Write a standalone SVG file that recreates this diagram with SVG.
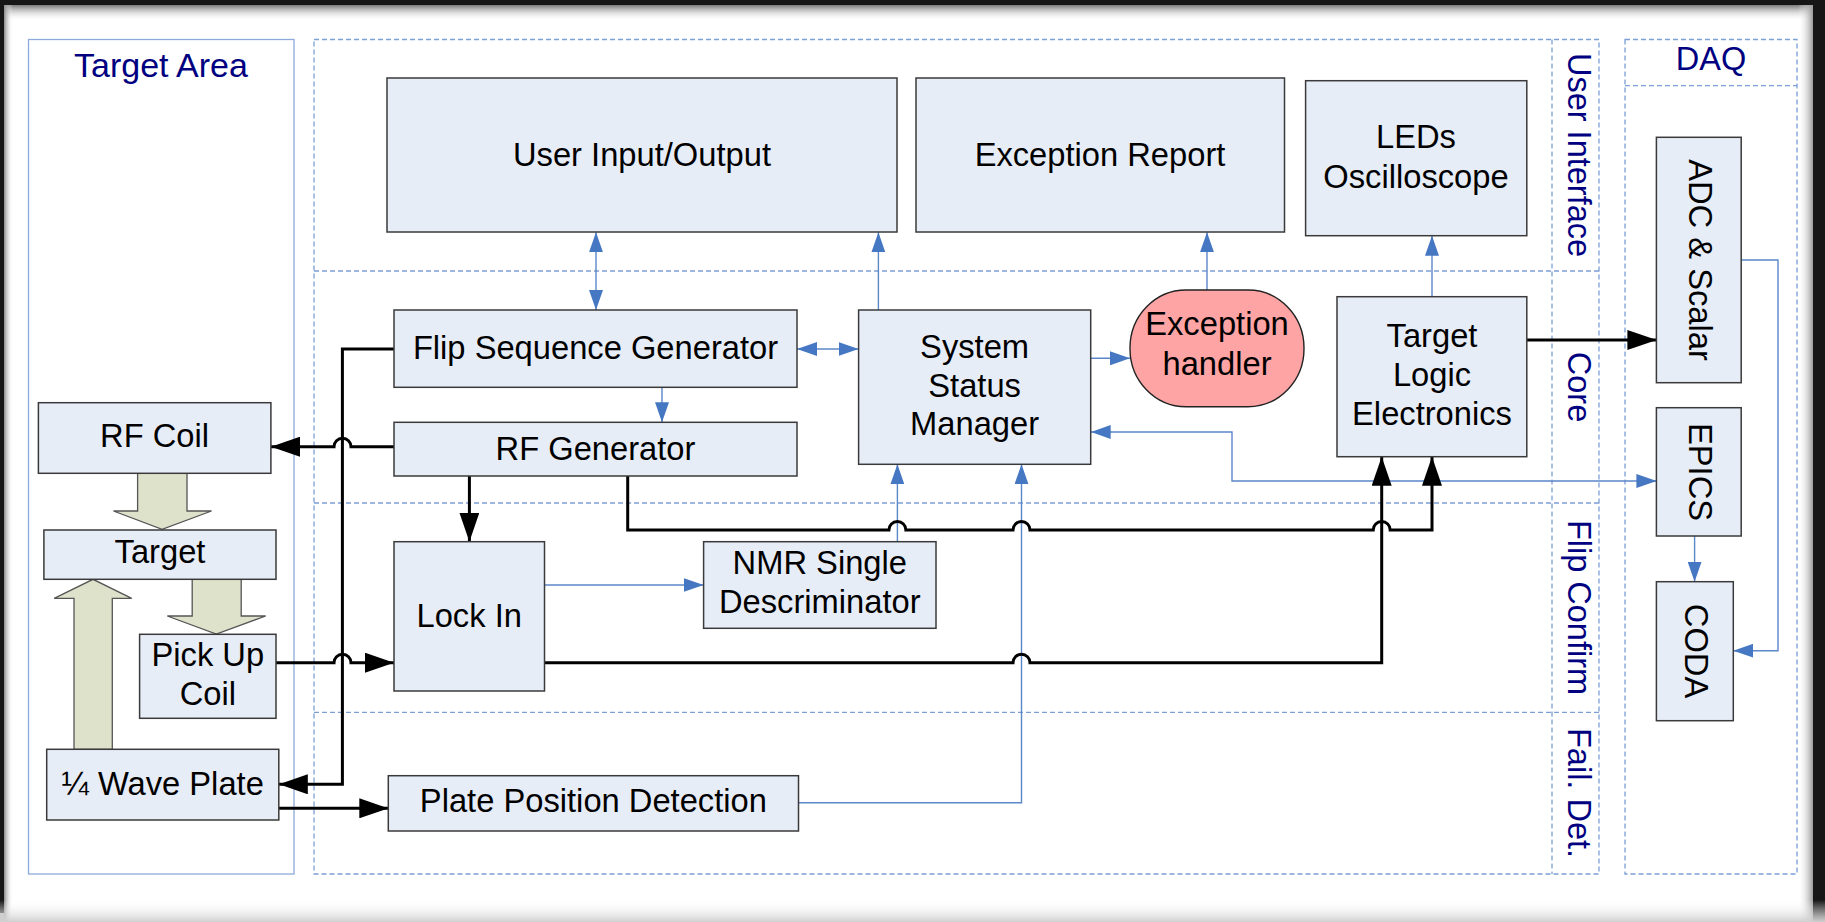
<svg xmlns="http://www.w3.org/2000/svg" width="1825" height="922" viewBox="0 0 1825 922">
<style>
.node{fill:#e7edf7;stroke:#3a3a3a;stroke-width:1.5}
.t{font-family:"Liberation Sans",Arial,sans-serif;font-size:32.7px;fill:#000;text-anchor:middle}
.lab{font-family:"Liberation Sans",Arial,sans-serif;font-size:32.5px;fill:#000080;text-anchor:middle}
.lane{fill:none;stroke:#7c9fd8;stroke-width:1.3;stroke-dasharray:5 3}
.blue{fill:none;stroke:#5b87c9;stroke-width:1.4}
.blk{fill:none;stroke:#000;stroke-width:3}
.block{fill:#dee2cb;stroke:#555;stroke-width:1.3}
</style>
<defs>
<linearGradient id="topg" x1="0" y1="0" x2="0" y2="1">
<stop offset="0" stop-color="#7a7a7a"/><stop offset="1" stop-color="#ffffff" stop-opacity="0"/>
</linearGradient>
<linearGradient id="botg" x1="0" y1="0" x2="0" y2="1">
<stop offset="0" stop-color="#ffffff" stop-opacity="0"/><stop offset="1" stop-color="#cfcfcf"/>
</linearGradient>
<linearGradient id="leftg" x1="0" y1="0" x2="1" y2="0">
<stop offset="0" stop-color="#8a8a8a"/><stop offset="1" stop-color="#ffffff" stop-opacity="0"/>
</linearGradient>
<linearGradient id="rightg" x1="0" y1="0" x2="1" y2="0">
<stop offset="0" stop-color="#ffffff" stop-opacity="0"/><stop offset="1" stop-color="#9a9a9a"/>
</linearGradient>
<marker id="ab" markerUnits="userSpaceOnUse" markerWidth="20" markerHeight="14" refX="20" refY="7" orient="auto-start-reverse">
<path d="M0,0 L20,7 L0,14 z" fill="#4677c3"/>
</marker>
<marker id="ak" markerUnits="userSpaceOnUse" markerWidth="29" markerHeight="20" refX="29" refY="10" orient="auto-start-reverse">
<path d="M0,0 L29,10 L0,20 z" fill="#000"/>
</marker>
</defs>

<!-- frame -->
<rect x="0" y="0" width="1825" height="922" fill="#161616"/>
<rect x="4" y="5" width="1809" height="917" fill="#ffffff"/>
<rect x="4" y="5" width="1809" height="16" fill="url(#topg)"/>
<rect x="4" y="5" width="9" height="917" fill="url(#leftg)"/>
<rect x="1798" y="5" width="15" height="917" fill="url(#rightg)"/>
<rect x="0" y="900" width="1825" height="22" fill="url(#botg)"/>
<rect x="0" y="913" width="4" height="9" fill="#cfcfcf"/>

<!-- containers -->
<g id="target-area">
<rect x="28.5" y="39.5" width="265.5" height="834.5" fill="none" stroke="#8eaadb" stroke-width="1.3"/>
<text class="lab" x="161" y="77" style="font-size:34px">Target Area</text>
</g>
<g id="lanes">
<rect class="lane" x="314" y="39.5" width="1285" height="834.5"/>
<line class="lane" x1="314" y1="271" x2="1599" y2="271"/>
<line class="lane" x1="314" y1="503" x2="1599" y2="503"/>
<line class="lane" x1="314" y1="712.3" x2="1599" y2="712.3"/>
<line class="lane" x1="1552" y1="39.5" x2="1552" y2="874"/>
<text class="lab" transform="translate(1579,155) rotate(90)" y="11.5">User Interface</text>
<text class="lab" transform="translate(1579,387) rotate(90)" y="11.5">Core</text>
<text class="lab" transform="translate(1579,607.5) rotate(90)" y="11.5">Flip Confirm</text>
<text class="lab" transform="translate(1579,793) rotate(90)" y="11.5">Fail. Det.</text>
</g>
<g id="daq">
<rect class="lane" x="1625" y="39.5" width="172" height="834.5"/>
<line class="lane" x1="1625" y1="85.7" x2="1797" y2="85.7"/>
<text class="lab" x="1711" y="70">DAQ</text>
</g>

<!-- block arrows -->
<g id="block-arrows">
<path class="block" d="M137.6,473.3 H187 V511 H211.5 L162.1,529.3 L113.5,511 H137.6 Z"/>
<path class="block" d="M192.2,579.3 H241.2 V616 H265.7 L216.3,634 L167.3,616 H192.2 Z"/>
<path class="block" d="M74,749.3 V598.3 H54.2 L93,579.3 L131.7,598.3 H112.3 V749.3 Z"/>
</g>

<!-- connectors -->
<g id="connectors">
<path class="blue" d="M596,232.3 V310" marker-start="url(#ab)" marker-end="url(#ab)"/>
<path class="blue" d="M878.4,310 V232.3" marker-end="url(#ab)"/>
<path class="blue" d="M1207,290 V232.3" marker-end="url(#ab)"/>
<path class="blue" d="M1432,296.7 V235.7" marker-end="url(#ab)"/>
<path class="blue" d="M797,349 H858.6" marker-start="url(#ab)" marker-end="url(#ab)"/>
<path class="blue" d="M662,387.3 V422.3" marker-end="url(#ab)"/>
<path class="blue" d="M1090.7,358.3 H1130" marker-end="url(#ab)"/>
<path class="blue" d="M1656.4,481 H1232 V432 H1090.7" marker-start="url(#ab)" marker-end="url(#ab)"/>
<path class="blue" d="M544.5,585 H703.6" marker-end="url(#ab)"/>
<path class="blue" d="M897.4,541.7 V464.3" marker-end="url(#ab)"/>
<path class="blue" d="M798.5,802.7 H1021.5 V464.3" marker-end="url(#ab)"/>
<path class="blue" d="M1694.6,536 V581.7" marker-end="url(#ab)"/>
<path class="blue" d="M1741.2,260 H1778 V650.7 H1733.3" marker-end="url(#ab)"/>

<path class="blk" d="M394,446.7 H351 a8.5,8.5 0 0 0 -17,0 H271" marker-end="url(#ak)"/>
<path class="blk" d="M394,349 H342.4 V784.3 H278.8" marker-end="url(#ak)"/>
<path class="blk" d="M276,662.7 H334 a8.5,8.5 0 0 1 17,0 H394" marker-end="url(#ak)"/>
<path class="blk" d="M469.4,476 V541.7" marker-end="url(#ak)"/>
<path class="blk" d="M278.8,808.3 H388.3" marker-end="url(#ak)"/>
<path class="blk" d="M627.7,476 V530 H888.9 a8.5,8.5 0 0 1 17,0 H1013 a8.5,8.5 0 0 1 17,0 H1373.2 a8.5,8.5 0 0 1 17,0 H1432 V456.7" marker-end="url(#ak)"/>
<path class="blk" d="M544.5,662.7 H1013 a8.5,8.5 0 0 1 17,0 H1381.7 V456.7" marker-end="url(#ak)"/>
<path class="blk" d="M1526.8,340 H1656.4" marker-end="url(#ak)"/>
</g>

<!-- nodes -->
<g id="user-io"><rect class="node" x="387" y="78" width="510" height="154"/><text class="t" x="642" y="166">User Input/Output</text></g>
<g id="exception-report"><rect class="node" x="916" y="78" width="368.5" height="154"/><text class="t" x="1100" y="166">Exception Report</text></g>
<g id="leds"><rect class="node" x="1305.6" y="80.7" width="221.2" height="155"/><text class="t" x="1416" y="148">LEDs</text><text class="t" x="1416" y="188">Oscilloscope</text></g>
<g id="flip-seq"><rect class="node" x="394" y="310" width="403" height="77.3"/><text class="t" x="595.5" y="359">Flip Sequence Generator</text></g>
<g id="rf-gen"><rect class="node" x="394" y="422.3" width="403" height="53.7"/><text class="t" x="595.5" y="460">RF Generator</text></g>
<g id="ssm"><rect class="node" x="858.6" y="310" width="232.1" height="154.3"/><text class="t" x="974.6" y="358">System</text><text class="t" x="974.6" y="397">Status</text><text class="t" x="974.6" y="435">Manager</text></g>
<g id="exception-handler"><rect x="1130" y="290" width="174" height="116.7" rx="56" ry="58" fill="#ffa4a4" stroke="#222" stroke-width="1.4"/><text class="t" x="1217" y="335">Exception</text><text class="t" x="1217" y="375">handler</text></g>
<g id="target-logic"><rect class="node" x="1337" y="296.7" width="189.8" height="160"/><text class="t" x="1432" y="347">Target</text><text class="t" x="1432" y="386">Logic</text><text class="t" x="1432" y="425">Electronics</text></g>
<g id="adc"><rect class="node" x="1656.4" y="137.3" width="84.8" height="245.4"/><text class="t" transform="translate(1700,260) rotate(90)" y="11.5">ADC &amp; Scalar</text></g>
<g id="epics"><rect class="node" x="1656.4" y="407.7" width="84.8" height="128.3"/><text class="t" transform="translate(1700,472) rotate(90)" y="11.5">EPICS</text></g>
<g id="coda"><rect class="node" x="1656.4" y="581.7" width="76.9" height="139"/><text class="t" transform="translate(1696,651) rotate(90)" y="11.5">CODA</text></g>
<g id="rf-coil"><rect class="node" x="38.4" y="402.7" width="232.5" height="70.6"/><text class="t" x="154.6" y="447">RF Coil</text></g>
<g id="target"><rect class="node" x="43.9" y="530" width="232.1" height="49.3"/><text class="t" x="160" y="563">Target</text></g>
<g id="pickup"><rect class="node" x="139.6" y="634.3" width="136.4" height="84"/><text class="t" x="207.8" y="666">Pick Up</text><text class="t" x="207.8" y="705">Coil</text></g>
<g id="lockin"><rect class="node" x="394" y="541.7" width="150.5" height="149.3"/><text class="t" x="469.2" y="627">Lock In</text></g>
<g id="nmr"><rect class="node" x="703.6" y="541.7" width="232.4" height="86.6"/><text class="t" x="819.8" y="574">NMR Single</text><text class="t" x="819.8" y="613">Descriminator</text></g>
<g id="wave-plate"><rect class="node" x="46.7" y="749.3" width="232.1" height="70.7"/><text class="t" x="162.7" y="795">¼ Wave Plate</text></g>
<g id="plate-pos"><rect class="node" x="388.3" y="775.7" width="410.2" height="55.3"/><text class="t" x="593.4" y="812">Plate Position Detection</text></g>
</svg>
